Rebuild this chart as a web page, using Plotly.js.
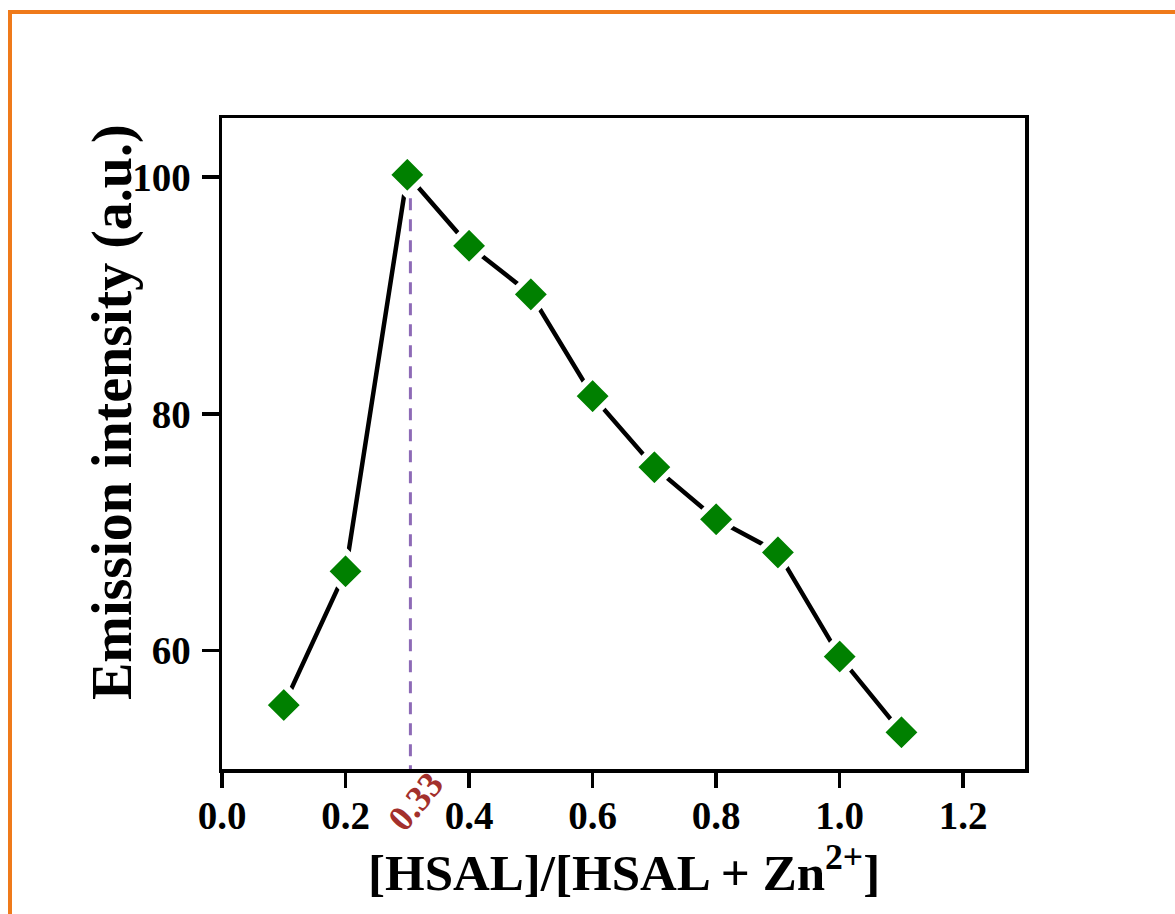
<!DOCTYPE html>
<html>
<head>
<meta charset="utf-8">
<script src="https://cdn.plot.ly/plotly-3.0.1.min.js"></script>
<style>
html,body{margin:0;padding:0;background:#fff;overflow:hidden;}
#chart{width:1175px;height:914px;position:absolute;left:0;top:0;}
#frame{position:absolute;left:8px;top:10px;width:3000px;height:3000px;border-left:4px solid #ef7a1a;border-top:4px solid #ef7a1a;pointer-events:none;z-index:10;}
</style>
</head>
<body>
<div id="chart"></div>
<div id="frame"></div>
<script>
const ratio = [0.1, 0.2, 0.3, 0.4, 0.5, 0.6, 0.7, 0.8, 0.9, 1.0, 1.1];
const intensity = [55.4, 66.7, 100.2, 94.2, 90.1, 81.5, 75.5, 71.1, 68.3, 59.5, 53.1];
const xTicks = [0, 0.2, 0.4, 0.6, 0.8, 1.0, 1.2];
const yTicks = [60, 80, 100];
const peakX = [0.305, 0.305];
const peakY = [100, 50];
const peakLabel = "0.33";
const xTitle = '[HSAL]/[HSAL + Zn<sup>2+</sup>]';
const yTitle = 'Emission intensity (a.u.)';

const font = "'Liberation Serif', 'Times New Roman', serif";

const traces = [
  {
    x: peakX, y: peakY, mode: 'lines', type: 'scatter',
    line: {color: '#8d6ab6', width: 3, dash: '12px,9px'},
    hoverinfo: 'skip', showlegend: false
  },
  {
    x: ratio, y: intensity, mode: 'lines+markers', type: 'scatter',
    line: {color: '#000', width: 4.5},
    marker: {symbol: 'diamond', size: 31, color: '#008000', line: {color: '#fff', width: 6}},
    showlegend: false
  }
];

const layout = {
  width: 1175, height: 914,
  margin: {l: 222, r: 150, t: 118, b: 145},
  paper_bgcolor: '#fff', plot_bgcolor: '#fff',
  font: {family: font, color: '#000'},
  xaxis: {
    range: [0, 1.3], tickvals: xTicks, tickformat: '.1f',
    ticks: 'outside', ticklen: 15, tickwidth: 3.5, tickcolor: '#000',
    showline: true, linewidth: 3.5, linecolor: '#000', mirror: true,
    showgrid: false, zeroline: false, ticklabelstandoff: -5,
    tickfont: {family: font, size: 39, color: '#000', weight: 'bold'}
  },
  yaxis: {
    range: [50, 105], tickvals: yTicks,
    ticks: 'outside', ticklen: 17, tickwidth: 3.5, tickcolor: '#000',
    showline: true, linewidth: 3.5, linecolor: '#000', mirror: true,
    showgrid: false, zeroline: false, ticklabelstandoff: 3,
    tickfont: {family: font, size: 39, color: '#000', weight: 'bold'}
  },
  annotations: [
    {
      x: 0.3125, xref: 'x', y: -0.05, yref: 'paper', xanchor: 'center', yanchor: 'middle',
      text: peakLabel, showarrow: false, textangle: -50,
      font: {family: font, size: 36, color: '#a3302c', weight: 'bold'}
    },
    {
      x: (112 - 222) / 803, xref: 'paper', y: (769 - 412) / 651, yref: 'paper',
      xanchor: 'center', yanchor: 'middle', textangle: -90,
      text: yTitle, showarrow: false,
      font: {family: font, size: 56, color: '#000', weight: 'bold'}
    },
    {
      x: 0.5, xref: 'paper', y: -(869 - 769) / 651, yref: 'paper',
      xanchor: 'center', yanchor: 'middle',
      text: xTitle, showarrow: false,
      font: {family: font, size: 51, color: '#000', weight: 'bold'}
    }
  ]
};

Plotly.newPlot('chart', traces, layout, {displayModeBar: false, staticPlot: true});
</script>
</body>
</html>
